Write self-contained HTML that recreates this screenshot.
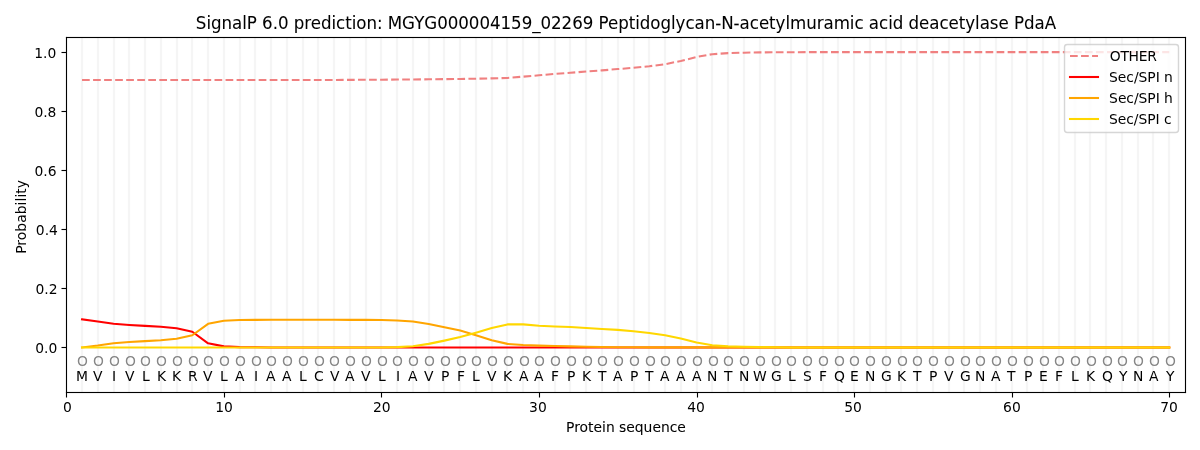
<!DOCTYPE html>
<html lang="en"><head><meta charset="utf-8"><title>SignalP 6.0 prediction</title>
<style>html,body{margin:0;padding:0;background:#fff;width:1200px;height:450px;overflow:hidden}svg{display:block}text{white-space:pre}</style></head><body>
<svg width="1200" height="450" viewBox="0 0 1200 450" font-family="'DejaVu Sans', sans-serif" font-size="13.889">
<rect width="1200" height="450" fill="#fff"/>
<g id="grid" fill="none">
<path d="M82 37.5V392.5M98 37.5V392.5M114 37.5V392.5M129 37.5V392.5M145 37.5V392.5M161 37.5V392.5M177 37.5V392.5M192 37.5V392.5M208 37.5V392.5M224 37.5V392.5M240 37.5V392.5M255 37.5V392.5M271 37.5V392.5M287 37.5V392.5M303 37.5V392.5M318 37.5V392.5M334 37.5V392.5M350 37.5V392.5M366 37.5V392.5M381 37.5V392.5M397 37.5V392.5M413 37.5V392.5M429 37.5V392.5M444 37.5V392.5M460 37.5V392.5M476 37.5V392.5M492 37.5V392.5M507 37.5V392.5M523 37.5V392.5M539 37.5V392.5M555 37.5V392.5M570 37.5V392.5M586 37.5V392.5M602 37.5V392.5M618 37.5V392.5M634 37.5V392.5M649 37.5V392.5M665 37.5V392.5M681 37.5V392.5M697 37.5V392.5M712 37.5V392.5M728 37.5V392.5M744 37.5V392.5M760 37.5V392.5M775 37.5V392.5M791 37.5V392.5M807 37.5V392.5M823 37.5V392.5M838 37.5V392.5M854 37.5V392.5M870 37.5V392.5M886 37.5V392.5M901 37.5V392.5M917 37.5V392.5M933 37.5V392.5M949 37.5V392.5M964 37.5V392.5M980 37.5V392.5M996 37.5V392.5M1012 37.5V392.5M1027 37.5V392.5M1043 37.5V392.5M1059 37.5V392.5M1075 37.5V392.5M1090 37.5V392.5M1106 37.5V392.5M1122 37.5V392.5M1138 37.5V392.5M1153 37.5V392.5M1169 37.5V392.5" stroke="#fefefe" stroke-width="4"/>
<path d="M82 37.5V392.5M98 37.5V392.5M114 37.5V392.5M129 37.5V392.5M145 37.5V392.5M161 37.5V392.5M177 37.5V392.5M192 37.5V392.5M208 37.5V392.5M224 37.5V392.5M240 37.5V392.5M255 37.5V392.5M271 37.5V392.5M287 37.5V392.5M303 37.5V392.5M318 37.5V392.5M334 37.5V392.5M350 37.5V392.5M366 37.5V392.5M381 37.5V392.5M397 37.5V392.5M413 37.5V392.5M429 37.5V392.5M444 37.5V392.5M460 37.5V392.5M476 37.5V392.5M492 37.5V392.5M507 37.5V392.5M523 37.5V392.5M539 37.5V392.5M555 37.5V392.5M570 37.5V392.5M586 37.5V392.5M602 37.5V392.5M618 37.5V392.5M634 37.5V392.5M649 37.5V392.5M665 37.5V392.5M681 37.5V392.5M697 37.5V392.5M712 37.5V392.5M728 37.5V392.5M744 37.5V392.5M760 37.5V392.5M775 37.5V392.5M791 37.5V392.5M807 37.5V392.5M823 37.5V392.5M838 37.5V392.5M854 37.5V392.5M870 37.5V392.5M886 37.5V392.5M901 37.5V392.5M917 37.5V392.5M933 37.5V392.5M949 37.5V392.5M964 37.5V392.5M980 37.5V392.5M996 37.5V392.5M1012 37.5V392.5M1027 37.5V392.5M1043 37.5V392.5M1059 37.5V392.5M1075 37.5V392.5M1090 37.5V392.5M1106 37.5V392.5M1122 37.5V392.5M1138 37.5V392.5M1153 37.5V392.5M1169 37.5V392.5" stroke="#f5f5f5" stroke-width="2"/>
</g>
<g id="residues" text-anchor="middle">
<g fill="#868686">
<text id="o1" x="82.56" y="366">O</text>
<text id="o2" x="98.53" y="366">O</text>
<text id="o3" x="114.52" y="366">O</text>
<text id="o4" x="130.54" y="366">O</text>
<text id="o5" x="145.34" y="366">O</text>
<text id="o6" x="161.56" y="366">O</text>
<text id="o7" x="177.54" y="366">O</text>
<text id="o8" x="193.57" y="366">O</text>
<text id="o9" x="208.45" y="366">O</text>
<text id="o10" x="224.48" y="366">O</text>
<text id="o11" x="240.56" y="366">O</text>
<text id="o12" x="256.44" y="366">O</text>
<text id="o13" x="271.47" y="366">O</text>
<text id="o14" x="287.51" y="366">O</text>
<text id="o15" x="303.34" y="366">O</text>
<text id="o16" x="319.46" y="366">O</text>
<text id="o17" x="334.5" y="366">O</text>
<text id="o18" x="350.54" y="366">O</text>
<text id="o19" x="366.5" y="366">O</text>
<text id="o20" x="382.49" y="366">O</text>
<text id="o21" x="397.53" y="366">O</text>
<text id="o22" x="413.56" y="366">O</text>
<text id="o23" x="429.53" y="366">O</text>
<text id="o24" x="445.52" y="366">O</text>
<text id="o25" x="461.54" y="366">O</text>
<text id="o26" x="476.34" y="366">O</text>
<text id="o27" x="492.56" y="366">O</text>
<text id="o28" x="508.54" y="366">O</text>
<text id="o29" x="524.57" y="366">O</text>
<text id="o30" x="539.51" y="366">O</text>
<text id="o31" x="555.58" y="366">O</text>
<text id="o32" x="571.57" y="366">O</text>
<text id="o33" x="587.49" y="366">O</text>
<text id="o34" x="602.53" y="366">O</text>
<text id="o35" x="618.5" y="366">O</text>
<text id="o36" x="634.49" y="366">O</text>
<text id="o37" x="650.51" y="366">O</text>
<text id="o38" x="665.56" y="366">O</text>
<text id="o39" x="681.53" y="366">O</text>
<text id="o40" x="697.51" y="366">O</text>
<text id="o41" x="713.54" y="366">O</text>
<text id="o42" x="728.34" y="366">O</text>
<text id="o43" x="744.55" y="366">O</text>
<text id="o44" x="760.54" y="366">O</text>
<text id="o45" x="776.57" y="366">O</text>
<text id="o46" x="791.5" y="366">O</text>
<text id="o47" x="807.48" y="366">O</text>
<text id="o48" x="823.56" y="366">O</text>
<text id="o49" x="839.43" y="366">O</text>
<text id="o50" x="854.47" y="366">O</text>
<text id="o51" x="870.51" y="366">O</text>
<text id="o52" x="886.58" y="366">O</text>
<text id="o53" x="902.46" y="366">O</text>
<text id="o54" x="917.5" y="366">O</text>
<text id="o55" x="933.53" y="366">O</text>
<text id="o56" x="949.5" y="366">O</text>
<text id="o57" x="965.49" y="366">O</text>
<text id="o58" x="980.52" y="366">O</text>
<text id="o59" x="996.56" y="366">O</text>
<text id="o60" x="1012.53" y="366">O</text>
<text id="o61" x="1028.51" y="366">O</text>
<text id="o62" x="1044.54" y="366">O</text>
<text id="o63" x="1059.34" y="366">O</text>
<text id="o64" x="1075.55" y="366">O</text>
<text id="o65" x="1091.54" y="366">O</text>
<text id="o66" x="1107.57" y="366">O</text>
<text id="o67" x="1122.5" y="366">O</text>
<text id="o68" x="1138.58" y="366">O</text>
<text id="o69" x="1154.57" y="366">O</text>
<text id="o70" x="1170.34" y="366">O</text>
</g><g fill="#000">
<text id="s1" x="82.11" y="381">M</text>
<text id="s2" x="97.79" y="381">V</text>
<text id="s3" x="114.08" y="381">I</text>
<text id="s4" x="129.79" y="381">V</text>
<text id="s5" x="145.81" y="381">L</text>
<text id="s6" x="161.57" y="381">K</text>
<text id="s7" x="176.57" y="381">K</text>
<text id="s8" x="192.9" y="381">R</text>
<text id="s9" x="207.84" y="381">V</text>
<text id="s10" x="223.8" y="381">L</text>
<text id="s11" x="239.84" y="381">A</text>
<text id="s12" x="256.1" y="381">I</text>
<text id="s13" x="270.86" y="381">A</text>
<text id="s14" x="286.87" y="381">A</text>
<text id="s15" x="302.81" y="381">L</text>
<text id="s16" x="318.78" y="381">C</text>
<text id="s17" x="334.63" y="381">V</text>
<text id="s18" x="349.65" y="381">A</text>
<text id="s19" x="365.65" y="381">V</text>
<text id="s20" x="381.86" y="381">L</text>
<text id="s21" x="398.09" y="381">I</text>
<text id="s22" x="412.67" y="381">A</text>
<text id="s23" x="428.68" y="381">V</text>
<text id="s24" x="445.2" y="381">P</text>
<text id="s25" x="460.99" y="381">F</text>
<text id="s26" x="475.94" y="381">L</text>
<text id="s27" x="491.71" y="381">V</text>
<text id="s28" x="507.46" y="381">K</text>
<text id="s29" x="523.7" y="381">A</text>
<text id="s30" x="538.73" y="381">A</text>
<text id="s31" x="554.99" y="381">F</text>
<text id="s32" x="571.25" y="381">P</text>
<text id="s33" x="586.43" y="381">K</text>
<text id="s34" x="602.31" y="381">T</text>
<text id="s35" x="617.76" y="381">A</text>
<text id="s36" x="634.29" y="381">P</text>
<text id="s37" x="649.35" y="381">T</text>
<text id="s38" x="664.78" y="381">A</text>
<text id="s39" x="680.79" y="381">A</text>
<text id="s40" x="696.78" y="381">A</text>
<text id="s41" x="712.22" y="381">N</text>
<text id="s42" x="728.12" y="381">T</text>
<text id="s43" x="744.21" y="381">N</text>
<text id="s44" x="759.97" y="381">W</text>
<text id="s45" x="776.32" y="381">G</text>
<text id="s46" x="791.83" y="381">L</text>
<text id="s47" x="807.41" y="381">S</text>
<text id="s48" x="822.9" y="381">F</text>
<text id="s49" x="839.47" y="381">Q</text>
<text id="s50" x="854.4" y="381">E</text>
<text id="s51" x="870.23" y="381">N</text>
<text id="s52" x="886.39" y="381">G</text>
<text id="s53" x="901.56" y="381">K</text>
<text id="s54" x="917.22" y="381">T</text>
<text id="s55" x="933.25" y="381">P</text>
<text id="s56" x="948.65" y="381">V</text>
<text id="s57" x="965.37" y="381">G</text>
<text id="s58" x="980.08" y="381">N</text>
<text id="s59" x="995.67" y="381">A</text>
<text id="s60" x="1011.29" y="381">T</text>
<text id="s61" x="1028.19" y="381">P</text>
<text id="s62" x="1043.48" y="381">E</text>
<text id="s63" x="1059" y="381">F</text>
<text id="s64" x="1074.88" y="381">L</text>
<text id="s65" x="1090.46" y="381">K</text>
<text id="s66" x="1107.58" y="381">Q</text>
<text id="s67" x="1123.12" y="381">Y</text>
<text id="s68" x="1138.13" y="381">N</text>
<text id="s69" x="1153.73" y="381">A</text>
<text id="s70" x="1170.16" y="381">Y</text>
</g></g>
<g id="curves" fill="none" stroke-width="2.08" stroke-linejoin="round">
<path d="M82.03 80.01 L97.79 80.01 L113.55 80.01 L129.3 80.01 L145.06 80.01 L160.82 80.01 L176.57 80.01 L192.33 80.01 L208.09 80.01 L223.84 80.01 L239.6 80.01 L255.36 80.01 L271.11 80.01 L286.87 80.01 L302.63 80.01 L318.38 80.01 L334.14 79.95 L349.9 79.86 L365.65 79.8 L381.41 79.71 L397.17 79.56 L412.92 79.48 L428.68 79.33 L444.44 79.12 L460.19 78.97 L475.95 78.68 L491.71 78.38 L507.46 77.94 L523.22 76.67 L538.98 75.28 L554.73 73.95 L570.49 72.77 L586.25 71.53 L602 70.35 L617.76 69.08 L633.52 67.75 L649.27 66.28 L665.03 64.21 L680.79 60.96 L696.54 57 L712.3 54.17 L728.06 53.13 L743.81 52.69 L759.57 52.39 L775.33 52.31 L791.08 52.22 L806.84 52.16 L822.6 52.13 L838.35 52.13 L854.11 52.13 L869.87 52.13 L885.62 52.13 L901.38 52.13 L917.14 52.13 L932.89 52.13 L948.65 52.13 L964.41 52.13 L980.16 52.13 L995.92 52.13 L1011.68 52.13 L1027.43 52.13 L1043.19 52.13 L1058.95 52.13 L1074.7 52.13 L1090.46 52.13 L1106.22 52.13 L1121.97 52.13 L1137.73 52.13 L1153.49 52.13 L1169.24 52.13" stroke="#f08080" stroke-dasharray="7.71 3.33"/>
<path d="M82.03 319.37 L97.79 321.44 L113.55 323.8 L129.3 324.98 L145.06 325.86 L160.82 326.75 L176.57 328.23 L192.33 331.77 L208.09 343.29 L223.84 346.39 L239.6 347.13 L255.36 347.28 L271.11 347.42 L286.87 347.42 L302.63 347.42 L318.38 347.42 L334.14 347.42 L349.9 347.42 L365.65 347.42 L381.41 347.42 L397.17 347.42 L412.92 347.42 L428.68 347.42 L444.44 347.42 L460.19 347.42 L475.95 347.42 L491.71 347.42 L507.46 347.42 L523.22 347.42 L538.98 347.42 L554.73 347.42 L570.49 347.42 L586.25 347.42 L602 347.42 L617.76 347.42 L633.52 347.42 L649.27 347.42 L665.03 347.42 L680.79 347.42 L696.54 347.42 L712.3 347.42 L728.06 347.42 L743.81 347.42 L759.57 347.42 L775.33 347.42 L791.08 347.42 L806.84 347.42 L822.6 347.42 L838.35 347.42 L854.11 347.42 L869.87 347.42 L885.62 347.42 L901.38 347.42 L917.14 347.42 L932.89 347.42 L948.65 347.42 L964.41 347.42 L980.16 347.42 L995.92 347.42 L1011.68 347.42 L1027.43 347.42 L1043.19 347.42 L1058.95 347.42 L1074.7 347.42 L1090.46 347.42 L1106.22 347.42 L1121.97 347.42 L1137.73 347.42 L1153.49 347.42 L1169.24 347.42" stroke="#ff0000" stroke-linecap="square"/>
<path d="M82.03 347.42 L97.79 345.5 L113.55 343.2 L129.3 342.02 L145.06 341.13 L160.82 340.25 L176.57 338.8 L192.33 335.26 L208.09 323.8 L223.84 320.7 L239.6 320.05 L255.36 319.87 L271.11 319.81 L286.87 319.81 L302.63 319.81 L318.38 319.81 L334.14 319.81 L349.9 319.84 L365.65 319.9 L381.41 320.02 L397.17 320.46 L412.92 321.49 L428.68 323.95 L444.44 327.34 L460.19 330.59 L475.95 335.17 L491.71 340.34 L507.46 343.88 L523.22 345.06 L538.98 345.65 L554.73 345.95 L570.49 346.39 L586.25 346.77 L602 347.04 L617.76 347.19 L633.52 347.28 L649.27 347.34 L665.03 347.36 L680.79 347.36 L696.54 347.36 L712.3 347.36 L728.06 347.36 L743.81 347.39 L759.57 347.39 L775.33 347.42 L791.08 347.42 L806.84 347.42 L822.6 347.42 L838.35 347.42 L854.11 347.42 L869.87 347.42 L885.62 347.42 L901.38 347.42 L917.14 347.42 L932.89 347.42 L948.65 347.42 L964.41 347.42 L980.16 347.42 L995.92 347.42 L1011.68 347.42 L1027.43 347.42 L1043.19 347.42 L1058.95 347.42 L1074.7 347.42 L1090.46 347.42 L1106.22 347.42 L1121.97 347.42 L1137.73 347.42 L1153.49 347.42 L1169.24 347.42" stroke="#ffa500" stroke-linecap="square"/>
<path d="M82.03 347.42 L97.79 347.42 L113.55 347.42 L129.3 347.42 L145.06 347.42 L160.82 347.42 L176.57 347.42 L192.33 347.42 L208.09 347.42 L223.84 347.42 L239.6 347.42 L255.36 347.42 L271.11 347.42 L286.87 347.42 L302.63 347.42 L318.38 347.42 L334.14 347.42 L349.9 347.42 L365.65 347.42 L381.41 347.42 L397.17 347.13 L412.92 346.24 L428.68 343.88 L444.44 340.63 L460.19 337.09 L475.95 332.66 L491.71 327.93 L507.46 324.39 L523.22 324.39 L538.98 325.72 L554.73 326.46 L570.49 327.05 L586.25 328.08 L602 328.97 L617.76 329.85 L633.52 331.18 L649.27 332.95 L665.03 335.17 L680.79 338.56 L696.54 342.55 L712.3 345.21 L728.06 346.24 L743.81 346.83 L759.57 347.13 L775.33 347.28 L791.08 347.42 L806.84 347.42 L822.6 347.42 L838.35 347.42 L854.11 347.42 L869.87 347.42 L885.62 347.42 L901.38 347.42 L917.14 347.42 L932.89 347.42 L948.65 347.42 L964.41 347.42 L980.16 347.42 L995.92 347.42 L1011.68 347.42 L1027.43 347.42 L1043.19 347.42 L1058.95 347.42 L1074.7 347.42 L1090.46 347.42 L1106.22 347.42 L1121.97 347.42 L1137.73 347.42 L1153.49 347.42 L1169.24 347.42" stroke="#ffd700" stroke-linecap="square"/>
</g>
<g id="axes">
<g id="ticks" fill="#000">
<rect x="65.94" y="392.5" width="1.11" height="5"/>
<rect x="223.94" y="392.5" width="1.11" height="5"/>
<rect x="380.94" y="392.5" width="1.11" height="5"/>
<rect x="538.94" y="392.5" width="1.11" height="5"/>
<rect x="696.94" y="392.5" width="1.11" height="5"/>
<rect x="853.94" y="392.5" width="1.11" height="5"/>
<rect x="1011.94" y="392.5" width="1.11" height="5"/>
<rect x="1168.94" y="392.5" width="1.11" height="5"/>
<rect x="61.5" y="346.94" width="5" height="1.11"/>
<rect x="61.5" y="287.94" width="5" height="1.11"/>
<rect x="61.5" y="228.94" width="5" height="1.11"/>
<rect x="61.5" y="169.94" width="5" height="1.11"/>
<rect x="61.5" y="110.94" width="5" height="1.11"/>
<rect x="61.5" y="51.94" width="5" height="1.11"/>
</g>
<g id="spines" fill="#000">
<rect x="65.94" y="36.94" width="1.11" height="356.11"/>
<rect x="1184.94" y="36.94" width="1.11" height="356.11"/>
<rect x="65.94" y="391.94" width="1120.11" height="1.11"/>
<rect x="65.94" y="36.94" width="1120.11" height="1.11"/>
</g>
</g>
<g id="ticklabels" fill="#000">
<text id="xt0" x="67.3" y="412" text-anchor="middle">0</text>
<text id="xt1" x="224.1" y="412" text-anchor="middle">10</text>
<text id="xt2" x="381.83" y="412" text-anchor="middle">20</text>
<text id="xt3" x="537.94" y="412" text-anchor="middle">30</text>
<text id="xt4" x="696.09" y="412" text-anchor="middle">40</text>
<text id="xt5" x="853.11" y="412" text-anchor="middle">50</text>
<text id="xt6" x="1011.93" y="412" text-anchor="middle">60</text>
<text id="xt7" x="1169" y="412" text-anchor="middle">70</text>
<text id="yt0" x="57.31" y="353" text-anchor="end">0.0</text>
<text id="yt1" x="57.51" y="294" text-anchor="end">0.2</text>
<text id="yt2" x="57.94" y="235" text-anchor="end">0.4</text>
<text id="yt3" x="56.59" y="176" text-anchor="end">0.6</text>
<text id="yt4" x="56.46" y="117" text-anchor="end">0.8</text>
<text id="yt5" x="56.22" y="58" text-anchor="end">1.0</text>
</g>
<text id="xlabel" x="625.99" y="432" text-anchor="middle" stroke="#000" stroke-width="0.05" textLength="119.75" lengthAdjust="spacing">Protein sequence</text>
<text id="ylabel" transform="translate(25.64 216.93) rotate(-90)" text-anchor="middle" textLength="73.88" lengthAdjust="spacing">Probability</text>
<text id="title" x="0" y="0" text-anchor="middle" font-size="16.667" stroke="#000" stroke-width="0.05" transform="translate(625.97 29) scale(1 1.06)" textLength="860.25" lengthAdjust="spacing">SignalP 6.0 prediction: MGYG000004159_02269 Peptidoglycan-N-acetylmuramic acid deacetylase PdaA</text>
<g id="legend">
<path d="M1067.28 132.5 H1175.72 Q1178.5 132.5 1178.5 129.72 V47.28 Q1178.5 44.5 1175.72 44.5 H1067.28 Q1064.5 44.5 1064.5 47.28 V129.72 Q1064.5 132.5 1067.28 132.5 Z" fill="#fff" stroke="#ccc" stroke-width="1.39" opacity="0.8"/>
<g fill="none" stroke-width="2.08">
<path d="M1070 56 H1098" stroke="#f08080" stroke-dasharray="7.71 3.33"/>
<path d="M1070 77 H1098" stroke="#ff0000" stroke-linecap="square"/>
<path d="M1070 98 H1098" stroke="#ffa500" stroke-linecap="square"/>
<path d="M1070 119 H1098" stroke="#ffd700" stroke-linecap="square"/>
</g>
<g fill="#000">
<text id="lt0" x="1109.79" y="61" textLength="47" lengthAdjust="spacing">OTHER</text>
<text id="lt1" x="1109.1" y="82" textLength="63.75" lengthAdjust="spacing">Sec/SPI n</text>
<text id="lt2" x="1109.12" y="103" textLength="63.75" lengthAdjust="spacing">Sec/SPI h</text>
<text id="lt3" x="1108.97" y="124" textLength="62.62" lengthAdjust="spacing">Sec/SPI c</text>
</g></g>
</svg>
</body></html>
